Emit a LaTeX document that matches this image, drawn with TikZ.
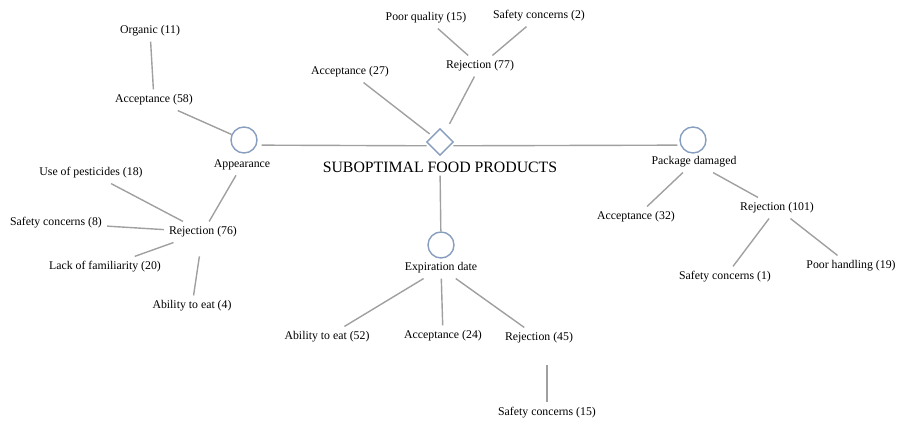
\documentclass[tikz,border=0pt]{standalone}
\usepackage{fontspec}
\setmainfont{Liberation Serif}
\usetikzlibrary{shapes.geometric}
\definecolor{linegray}{RGB}{160,160,160}
\definecolor{nodeblue}{RGB}{135,158,190}
\begin{document}
\begin{tikzpicture}[x=1pt,y=-1pt,
  lbl/.style={font=\fontsize{11.8}{14}\selectfont, inner sep=5pt, text=black},
  hub/.style={circle, draw=nodeblue, line width=1.4pt, minimum size=26pt, inner sep=0pt},
  root/.style={diamond, draw=nodeblue, line width=1.4pt, minimum width=27pt, minimum height=27pt, inner sep=0pt},
  conn/.style={draw=linegray, line width=1.4pt}]
\useasboundingbox (0,0) rectangle (904,420);
% root
\node[root] (dia) at (440,142) {};
\node[font=\fontsize{15.8}{19}\selectfont, inner sep=3pt] (title) at (440,167) {SUBOPTIMAL FOOD PRODUCTS};
% hubs
\node[hub] (app) at (244,140) {};
\node[lbl] (appt) at (242,165) {Appearance};
\node[hub] (pkg) at (693,140) {};
\node[lbl] (pkgt) at (694,162) {Package damaged};
\node[hub] (exc) at (441,245) {};
\node[lbl] (exct) at (441,268) {Expiration date};
% top
\node[lbl] (acc27) at (350,72) {Acceptance (27)};
\node[lbl] (rej77) at (480,66) {Rejection (77)};
\node[lbl] (pq15) at (426,18) {Poor quality (15)};
\node[lbl] (sc2) at (539,16) {Safety concerns (2)};
% left
\node[lbl] (acc58) at (154,100) {Acceptance (58)};
\node[lbl] (org11) at (150,31) {Organic (11)};
\node[lbl] (rej76) at (203,232) {Rejection (76)};
\node[lbl] (up18) at (91,173) {Use of pesticides (18)};
\node[lbl] (sc8) at (56,223) {Safety concerns (8)};
\node[lbl] (lf20) at (105,267) {Lack of familiarity (20)};
\node[lbl] (ae4) at (192,306) {Ability to eat (4)};
% bottom
\node[lbl] (ae52) at (327,337) {Ability to eat (52)};
\node[lbl] (acc24) at (443,336) {Acceptance (24)};
\node[lbl] (rej45) at (539,338) {Rejection (45)};
\node[lbl] (sc15) at (547,413) {Safety concerns (15)};
% right
\node[lbl] (acc32) at (636,217) {Acceptance (32)};
\node[lbl] (rej101) at (777,208) {Rejection (101)};
\node[lbl] (sc1) at (725,277) {Safety concerns (1)};
\node[lbl] (ph19) at (851,266) {Poor handling (19)};
% connectors
\draw[conn, shorten <=5pt, shorten >=3pt] (app.-22) -- (dia.-160);
\draw[conn, shorten <=3pt, shorten >=3pt] (dia.-20) -- (pkg.-158);
\draw[conn] (title) -- (exc);
\draw[conn, shorten >=3pt] (acc27) -- (dia);
\draw[conn, shorten >=10pt] (rej77) -- (dia);
\draw[conn] (pq15) -- (rej77);
\draw[conn] (sc2) -- (rej77);
\draw[conn] (acc58) -- (app);
\draw[conn] (org11) -- (acc58);
\draw[conn] (appt) -- (rej76);
\draw[conn] (up18) -- (rej76);
\draw[conn] (sc8) -- (rej76);
\draw[conn] (lf20) -- (rej76);
\draw[conn, shorten >=14pt] (ae4) -- (rej76);
\draw[conn] (exct) -- (ae52);
\draw[conn] (exct) -- (acc24);
\draw[conn] (exct) -- (rej45);
\draw[conn, shorten >=16pt] (sc15.north) -- (sc15.north |- rej45.south);
\draw[conn] (pkgt) -- (acc32);
\draw[conn] (pkgt) -- (rej101);
\draw[conn] (rej101) -- (sc1);
\draw[conn] (rej101) -- (ph19);
\end{tikzpicture}
\end{document}
